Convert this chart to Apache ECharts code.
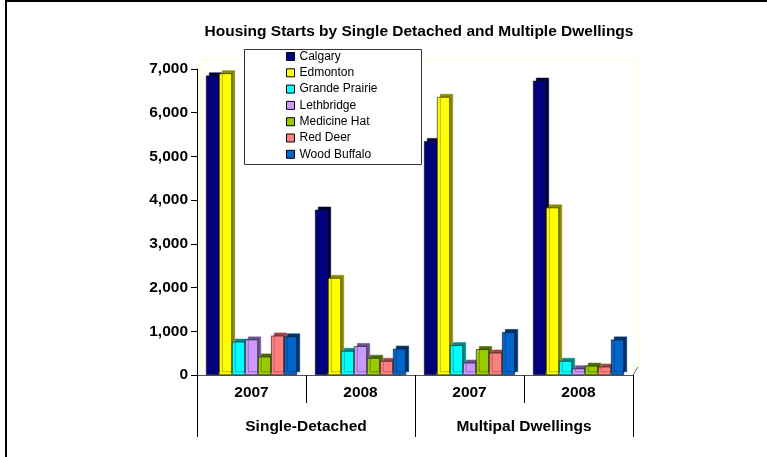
<!DOCTYPE html>
<html>
<head>
<meta charset="utf-8">
<script src="https://cdn.jsdelivr.net/npm/echarts@6/dist/echarts.min.js"></script>
<style>html,body{margin:0;padding:0;background:#fff;}#c{width:767px;height:457px;}</style>
</head>
<body>
<div id="c"></div>
<script>
const years = ['2007', '2008', '2007', '2008'];
const groups = ['Single-Detached', 'Multipal Dwellings'];
const yTicks = [0, 1000, 2000, 3000, 4000, 5000, 6000, 7000];
const cities = ['Calgary', 'Edmonton', 'Grande Prairie', 'Lethbridge', 'Medicine Hat', 'Red Deer', 'Wood Buffalo'];
const calgary = [6850, 3780, 5350, 6730];
const edmonton = [6900, 2220, 6360, 3830];
const grandePrairie = [760, 550, 680, 320];
const lethbridge = [810, 660, 280, 150];
const medicineHat = [420, 390, 590, 210];
const redDeer = [900, 320, 510, 190];
const woodBuffalo = [880, 600, 980, 810];
const seriesValues = [calgary, edmonton, grandePrairie, lethbridge, medicineHat, redDeer, woodBuffalo];

const colors = ['#000080', '#FFFF00', '#00FFFF', '#CC99FF', '#99CC00', '#FF8080', '#0066CC'];
const sides = ['#00003a', '#8a8a00', '#008a8a', '#6c5290', '#4f6a00', '#a04848', '#00336a'];

const chart = echarts.init(document.getElementById('c'), null, {renderer: 'canvas'});
const font = 'Liberation Sans, Arial, sans-serif';

const series = cities.map((name, i) => ({
  name: name,
  type: 'bar',
  xAxisIndex: 0,
  data: seriesValues[i],
  barWidth: 13,
  barGap: '0%',
  itemStyle: {
    color: colors[i],
    borderColor: '#111',
    borderWidth: 0.6,
    shadowColor: sides[i],
    shadowBlur: 0,
    shadowOffsetX: 3,
    shadowOffsetY: -3
  },
  emphasis: {disabled: true},
  animation: false
}));

chart.setOption({
  animation: false,
  title: {
    text: 'Housing Starts by Single Detached and Multiple Dwellings',
    left: 419,
    top: 24,
    padding: 0,
    textAlign: 'center',
    textStyle: {fontFamily: font, fontSize: 15.5, fontWeight: 'bold', color: '#000'}
  },
  legend: {
    orient: 'vertical',
    left: 286,
    top: 50.5,
    padding: 0,
    itemWidth: 8,
    itemHeight: 8,
    itemGap: 4.3,
    icon: 'rect',
    data: cities,
    textStyle: {fontFamily: font, fontSize: 12, color: '#000', lineHeight: 12},
    itemStyle: {borderColor: '#000', borderWidth: 1, shadowBlur: 0, shadowOffsetX: 0, shadowOffsetY: 0, shadowColor: 'rgba(0,0,0,0)'},
    selectedMode: false
  },
  grid: {left: 197, right: 134, top: 69, bottom: 82, containLabel: false},
  xAxis: [
    {
      type: 'category',
      data: years,
      position: 'bottom',
      axisLine: {show: true, lineStyle: {color: '#555', width: 1}},
      axisTick: {show: true, length: 28, lineStyle: {color: '#000'}},
      axisLabel: {margin: 10, fontFamily: font, fontSize: 15.5, fontWeight: 'bold', color: '#000'}
    },
    {
      type: 'category',
      data: groups,
      position: 'bottom',
      axisLine: {show: false},
      axisTick: {show: true, length: 62, lineStyle: {color: '#000'}},
      axisLabel: {margin: 44, fontFamily: font, fontSize: 15.5, fontWeight: 'bold', color: '#000'}
    }
  ],
  yAxis: {
    type: 'value',
    min: yTicks[0],
    max: yTicks[yTicks.length - 1],
    interval: 1000,
    axisLine: {show: true, lineStyle: {color: '#000'}},
    axisTick: {show: true, length: 6, lineStyle: {color: '#000'}},
    splitLine: {show: false},
    axisLabel: {
      margin: 9,
      fontFamily: font, fontSize: 15.5, fontWeight: 'bold', color: '#000',
      formatter: v => v.toLocaleString('en-US')
    }
  },
  graphic: [
    {type: 'rect', z: 0, shape: {x: 200, y: 60, width: 438, height: 306}, style: {fill: 'none', stroke: '#ffffc8', lineWidth: 1}},
    {type: 'line', z: 0, shape: {x1: 633, y1: 375, x2: 638, y2: 367}, style: {stroke: '#666', lineWidth: 1}},
    {type: 'rect', z: 0, shape: {x: 244.5, y: 49.5, width: 177, height: 115}, style: {fill: '#fff', stroke: '#333', lineWidth: 1}},
    {type: 'line', z: 10, shape: {x1: 6, y1: 0, x2: 6, y2: 457}, style: {stroke: '#000', lineWidth: 2}},
    {type: 'line', z: 10, shape: {x1: 5, y1: 1, x2: 767, y2: 1}, style: {stroke: '#000', lineWidth: 2}}
  ],
  series: series
});
</script>
</body>
</html>
